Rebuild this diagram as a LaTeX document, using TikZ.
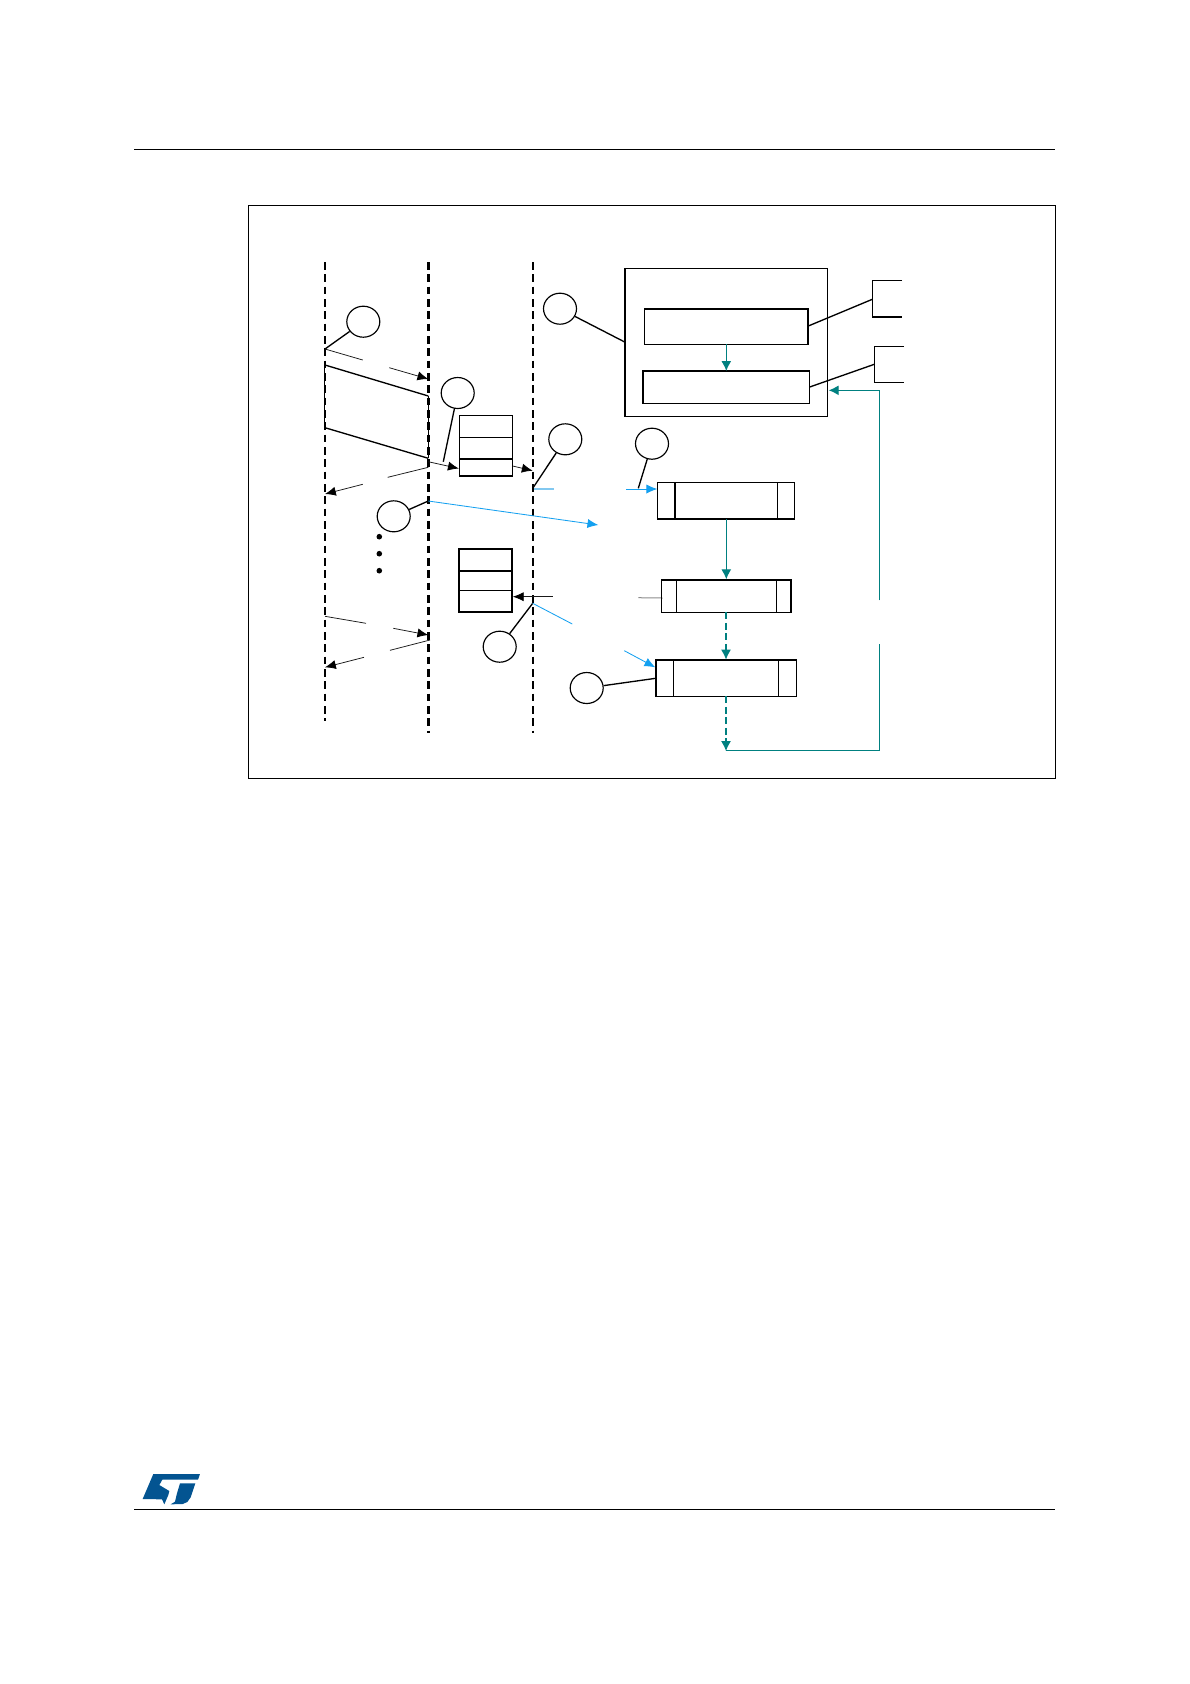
\documentclass[tikz,border=0pt]{standalone}
\usetikzlibrary{arrows.meta,shapes.geometric}
\definecolor{tealc}{RGB}{0,128,128}
\definecolor{bluec}{RGB}{20,160,240}
\definecolor{lightb}{RGB}{130,200,240}
\definecolor{stblue}{RGB}{3,84,145}
\tikzset{
 x=0.6pt,y=-0.6pt,
 tip/.style={-{Latex[length=6.5pt,width=5.5pt,color=black]}},
 tipblue/.style={-{Latex[length=6.5pt,width=5.5pt,color=bluec]}},
 life/.style={line width=1.25pt,dash pattern=on 4.6pt off 2.8pt},
 lifeb/.style={line width=1.45pt,dash pattern=on 4.6pt off 2.8pt},
 thin1/.style={line width=0.45pt,draw=black!90},
 lead/.style={line width=0.8pt},
 callout/.style={draw,line width=0.7pt,ellipse,minimum width=19.8pt,minimum height=18.6pt,inner sep=0pt},
 box/.style={draw,line width=0.65pt},
 tealline/.style={draw=tealc,line width=0.7pt},
 tealdash/.style={draw=tealc,line width=1.4pt,dash pattern=on 4.2pt off 2.1pt},
 blueline/.style={draw=bluec,line width=0.5pt},
 tipteal/.style={-{Latex[length=6pt,width=6pt,color=tealc]},tealline},
}
\begin{document}
\begin{tikzpicture}
\useasboundingbox (0,0) rectangle (1190,1684);
\fill[white] (0,0) rectangle (1190,1684);
% page rules
\coordinate (ruleTL) at (134,149.5); \coordinate (ruleTR) at (1055,149.5);
\coordinate (ruleBL) at (134,1509.5); \coordinate (ruleBR) at (1055,1509.5);
\draw[line width=0.7pt] (ruleTL)--(ruleTR);
\draw[line width=0.7pt] (ruleBL)--(ruleBR);
% frame
\draw[line width=0.65pt] (248.3,205.3) rectangle (1055.3,778.3);
% lifelines
\draw[life] (324.7,262)--(324.7,720.7);
\draw[lifeb] (428.3,262)--(428.3,732.7);
\draw[life] (532.7,262)--(532.7,732.7);
\draw[line width=0.7pt] (324.7,365)--(324.7,427.7);
\draw[line width=0.9pt] (428.3,396)--(428.3,458.3);
% callouts
\node[callout] (c1) at (363.3,321.7) {};
\node[callout] (c2) at (457.7,393) {};
\node[callout] (c3) at (560,308.7) {};
\node[callout] (c4) at (565.3,439.3) {};
\node[callout] (c5) at (652,443.7) {};
\node[callout] (c6) at (393.7,516.3) {};
\node[callout] (c7) at (499.7,646.7) {};
\node[callout] (c8) at (586.7,688) {};
\draw[lead] (c1) -- (325,349);
\draw[lead] (c2) -- (443.3,461.7);
\draw[lead] (c3) -- (624.7,342);
\draw[lead] (c4) -- (532.7,488.3);
\draw[lead] (c5) -- (638.3,488.3);
\draw[lead] (c6) -- (428.3,501);
\draw[lead] (c7) -- (532.7,603.3);
\draw[lead] (c8) -- (655.7,678.3);
% dots
\fill (379.3,536.7) circle[radius=2.8];
\fill (379.3,553.7) circle[radius=2.8];
\fill (379.3,570.7) circle[radius=2.8];
% message arrows
\draw[thin1] (325,349)--(362.7,360);
\draw[thin1,tip] (389.3,367.7)--(428.3,379);
\draw[lead] (325,365)--(428.3,396);
\draw[lead] (325,427.7)--(428.3,458.3);
\draw[thin1,tip] (428.3,461.7)--(458.8,468.5);
\draw[thin1,tip] (512.7,466)--(532.7,470.7);
\draw[thin1] (428.3,467.3)--(387.7,477.3);
\draw[thin1,tip] (362.7,484.3)--(325,494);
\draw[thin1] (325,616.3)--(366,623.3);
\draw[thin1,tip] (393.3,628.3)--(428.3,635);
\draw[thin1] (430,640)--(390,650.3);
\draw[thin1,tip] (364,657.3)--(325,667.3);
% blue arrows
\draw[blueline,tipblue] (428.3,501)--(598.3,525);
\draw[draw=lightb,line width=0.7pt] (534,489)--(554.3,489);
\draw[blueline,tipblue] (626,489)--(657.3,489);
\draw[blueline] (532.7,603.3)--(572.3,624);
\draw[blueline,tipblue] (624.3,650.7)--(655.3,667.3);
% stacks
\draw[line width=0.8pt] (459.3,415.7) rectangle (512.3,476);
\draw[box] (459.3,437.3)--(512.3,437.3);
\draw[line width=1.1pt] (459.3,458.7)--(512.3,458.7);
\draw[line width=1.1pt] (459.3,548.7) rectangle (512.3,612);
\draw[line width=1.1pt] (459.3,570.7)--(512.3,570.7);
\draw[line width=0.5pt] (459.3,590)--(512.3,590);
\draw[thin1,tip] (552.7,596.7)--(512.8,596.7);
\draw[draw=black!45,line width=0.6pt] (638.3,597.7)--(662.7,598);
% big box
\draw[box] (624.7,268.7) rectangle (827.7,416.7);
\draw[line width=1.1pt] (624.7,268.7)--(624.7,416.7);
\draw[box] (644.3,308.7) rectangle (808.3,344.3);
\draw[line width=1.2pt] (644.3,308.7)--(808.3,308.7)--(808.3,344.3);
\draw[box] (643,371) rectangle (809.7,403.3);
\draw[line width=1.2pt] (643,403.3)--(643,371)--(809.7,371);
\draw[tipteal] (726.3,344.3)--(726.3,371);
% open boxes
\draw[box] (902,280.3)--(872.3,280.3)--(872.3,317);
\draw[line width=1.2pt] (872.3,317)--(902,317);
\draw[lead] (808.3,326)--(872.3,299.3);
\draw[box] (904,346.3)--(874.3,346.3)--(874.3,382.3)--(904,382.3);
\draw[lead] (809.7,387)--(874.3,364.3);
% lower boxes
\draw[box] (657.3,482.7) rectangle (794.3,519);
\draw[line width=1.2pt] (675,482.7)--(675,519);
\draw[box] (777.3,482.7)--(777.3,519);
\draw[line width=1.2pt] (657.3,519)--(794.3,519);
\draw[box] (661.7,579.7) rectangle (791.3,612.3);
\draw[box] (676.7,579.7)--(676.7,612.3);
\draw[box] (776.7,579.7)--(776.7,612.3);
\draw[line width=1.2pt] (661.7,579.7)--(791.3,579.7)--(791.3,612.3);
\draw[box] (655.7,660) rectangle (796.7,696.3);
\draw[box] (673.3,660)--(673.3,696.3);
\draw[box] (778.7,660)--(778.7,696.3);
\draw[line width=1.2pt] (655.7,696.3)--(655.7,660)--(796.7,660);
% teal flow
\draw[tipteal] (726.3,519)--(726.3,579.3);
\draw[tealdash] (726,612.3)--(726,651);
\draw[tipteal] (726,648)--(726,659.6);
\draw[tealdash] (726,696.3)--(726,741);
\draw[tipteal] (726,738)--(726,751);
\draw[tealline] (726,750.7)--(879.3,750.7)--(879.3,644);
\draw[tipteal] (879.3,600.3)--(879.3,390.3)--(828.7,390.3);
% logo
\begin{scope}[shift={(100,1450)},x=0.2pt,y=-0.2pt]
\fill[stblue] (160,72)--(300,72)--(294,89)--(187,89)--(178,105)--(208,123)--(205,135)--(193,163)--(186,148)--(128,147)--cycle;
\fill[stblue] (240,100)--(286,100)--(272,142)--(262,156)--(248,162)--(212,163)--(225,155)--(231,130)--cycle;
\end{scope}
\end{tikzpicture}
\end{document}
